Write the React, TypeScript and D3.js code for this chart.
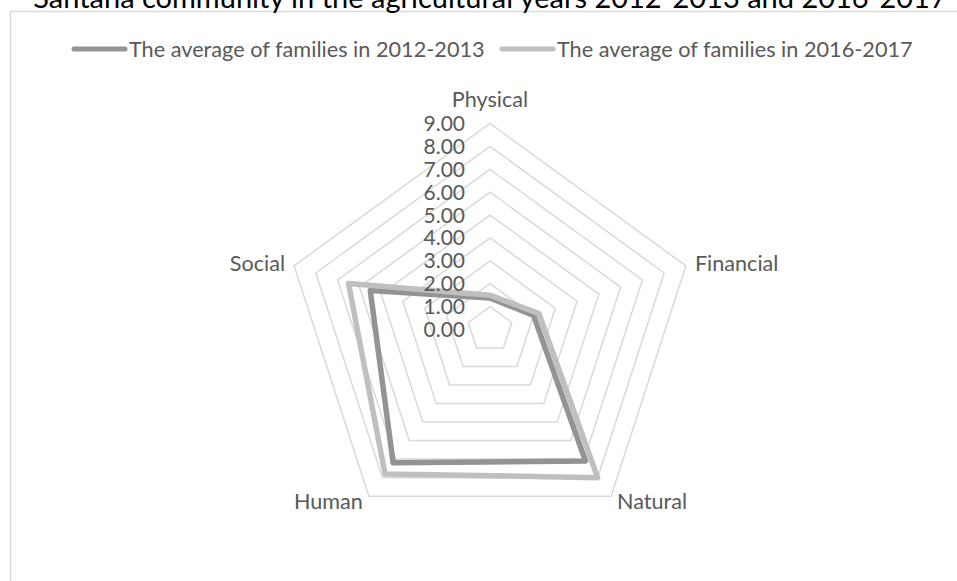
import React from "react";
import * as d3 from "d3";

const categories = ["Physical", "Financial", "Natural", "Human", "Social"];
const seriesNames = [
  "The average of families in 2012-2013",
  "The average of families in 2016-2017",
];
const values2012 = [1.38, 2.0, 7.1, 7.2, 5.5];
const values2016 = [1.5, 2.25, 8.0, 7.8, 6.5];
const tickValues = [0, 1, 2, 3, 4, 5, 6, 7, 8, 9];
const titleText =
  "Santana community in the agricultural years 2012-2013 and 2016-2017";

const W = 957;
const H = 581;
const cx = 490;
const cy = 329.5;
const R = 206;
const seriesColors = ["#939393", "#bfbfbf"];
const FONT = "Lato, 'Noto Sans', sans-serif";

export default function App() {
  const r = d3.scaleLinear().domain([0, 9]).range([0, R]);
  const n = categories.length;
  const angle = d3
    .scaleLinear()
    .domain([0, n])
    .range([0, 2 * Math.PI]);

  const pt = (i: number, v: number): [number, number] => {
    const a = angle(i);
    return [cx + Math.sin(a) * r(v), cy - Math.cos(a) * r(v)];
  };

  const ringPath = (v: number) =>
    d3.line()(d3.range(n).map((i) => pt(i, v))) + "Z";

  const radial = d3
    .lineRadial<number>()
    .angle((_, i) => angle(i))
    .radius((d) => r(d))
    .curve(d3.curveLinearClosed);

  const seriesData = [values2012, values2016];

  const labelPos = (i: number) => {
    const a = angle(i);
    const [vx, vy] = pt(i, 9);
    const s = Math.sin(a);
    const c = Math.cos(a);
    if (Math.abs(s) < 0.01) {
      return { x: vx, y: vy - 17, anchor: "middle" };
    }
    if (c > 0) {
      return {
        x: vx + (s > 0 ? 9 : -9),
        y: vy + 5,
        anchor: s > 0 ? "start" : "end",
      };
    }
    return {
      x: vx + (s > 0 ? 6 : -6),
      y: vy + 13,
      anchor: s > 0 ? "start" : "end",
    };
  };

  return (
    <div style={{ position: "absolute", left: 0, top: 0 }}>
      <svg width={W} height={H} style={{ display: "block", background: "#fff" }}>
        <rect x={10.5} y={11.5} width={980} height={620} fill="#fff" stroke="#d9d9d9" strokeWidth={1.4} />
        <text
          x={490}
          y={8}
          textAnchor="middle"
          fontFamily={FONT}
          fontSize={29}
          fill="#000"
        >
          {titleText}
        </text>

        {/* legend */}
        {seriesNames.map((name, i) => {
          const x0 = 72 + i * 428;
          return (
            <g key={name}>
              <line
                x1={x0 + 2}
                x2={x0 + 53}
                y1={49}
                y2={49}
                stroke={seriesColors[i]}
                strokeWidth={5}
                strokeLinecap="round"
              />
              <text x={x0 + 57} y={56.5} fontFamily={FONT} fontSize={21.7} fill="#595959">
                {name}
              </text>
            </g>
          );
        })}

        {/* grid rings */}
        {tickValues
          .filter((v) => v > 0)
          .map((v) => (
            <path key={v} d={ringPath(v)} fill="none" stroke="#d9d9d9" strokeWidth={1.5} />
          ))}

        {/* series */}
        {seriesData.map((vals, si) => (
          <path
            key={si}
            d={radial(vals) || ""}
            transform={`translate(${cx},${cy})`}
            fill="none"
            stroke={seriesColors[si]}
            strokeWidth={5.5}
            strokeLinejoin="round"
          />
        ))}

        {/* tick labels */}
        {tickValues.map((v) => (
          <text
            key={v}
            x={465}
            y={cy - r(v) + 7.5}
            textAnchor="end"
            fontFamily={FONT}
            fontSize={21}
            fill="#595959"
          >
            {d3.format(".2f")(v)}
          </text>
        ))}

        {/* category labels */}
        {categories.map((c, i) => {
          const p = labelPos(i);
          return (
            <text
              key={c}
              x={p.x}
              y={p.y}
              textAnchor={p.anchor as any}
              fontFamily={FONT}
              fontSize={21.6}
              fill="#595959"
            >
              {c}
            </text>
          );
        })}
      </svg>
    </div>
  );
}
